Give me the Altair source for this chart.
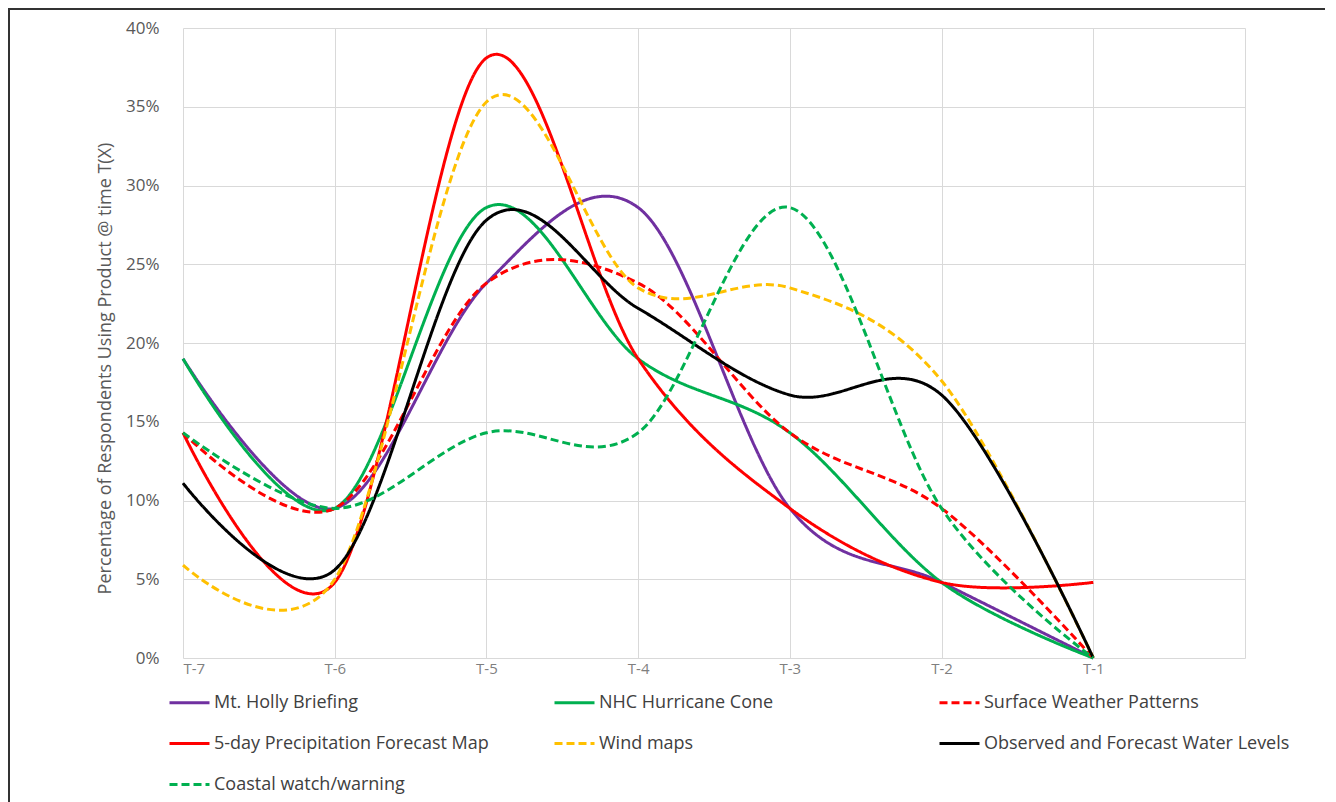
import altair as alt
import pandas as pd

labels = ["T-7", "T-6", "T-5", "T-4", "T-3", "T-2", "T-1", ""]
series = [
    "Mt. Holly Briefing",
    "NHC Hurricane Cone",
    "Surface Weather Patterns",
    "5-day Precipitation Forecast Map",
    "Wind maps",
    "Observed and Forecast Water Levels",
    "Coastal watch/warning",
]
mt_holly = [19.0, 9.5, 23.8, 28.6, 9.5, 4.8, 0.0]
nhc_cone = [19.0, 9.5, 28.6, 19.0, 14.3, 4.8, 0.0]
surface = [14.3, 9.5, 23.8, 23.8, 14.3, 9.5, 0.0]
precip = [14.3, 4.8, 38.1, 19.0, 9.5, 4.8, 4.8]
wind = [5.9, 5.0, 35.3, 23.5, 23.5, 17.6, 0.0]
water = [11.1, 5.6, 27.8, 22.2, 16.7, 16.7, 0.0]
coastal = [14.3, 9.5, 14.3, 14.3, 28.6, 9.5, 0.0]

colors = ["#7030A0", "#00B050", "#FF0000", "#FF0000", "#FFC000", "#000000", "#00B050"]
dashes = [[1, 0], [1, 0], [8, 4], [1, 0], [8, 4], [1, 0], [8, 4]]

all_vals = [mt_holly, nhc_cone, surface, precip, wind, water, coastal]
rows = []
for name, vals in zip(series, all_vals):
    for i, v in enumerate(vals):
        rows.append({"series": name, "t": i, "pct": v})
df = pd.DataFrame(rows)

label_expr = "[" + ",".join("'" + l + "'" for l in labels) + "][datum.value]"
FONT = "Open Sans"

legend = alt.Legend(
    title=None,
    orient="none",
    direction="horizontal",
    legendX=-15,
    legendY=653,
    columns=3,
    gridAlign="all",
    columnPadding=28,
    rowPadding=10,
    symbolType="stroke",
    symbolSize=1600,
    symbolStrokeWidth=3,
    labelFont=FONT,
    labelFontSize=18,
    labelColor="#404040",
    labelLimit=400,
    labelOffset=3,
)

lines = alt.Chart(df).mark_line(interpolate="cardinal", strokeWidth=3).encode(
    x=alt.X(
        "t:Q",
        scale=alt.Scale(domain=[0, 7], nice=False),
        axis=alt.Axis(
            values=list(range(8)),
            labelExpr=label_expr,
            title=None,
            grid=True,
            gridColor="#d9d9d9",
            domain=False,
            ticks=False,
            labelFont=FONT,
            labelFontSize=15,
            labelColor="#7f7f7f",
            labelPadding=3,
        ),
    ),
    y=alt.Y(
        "pct:Q",
        scale=alt.Scale(domain=[0, 40], nice=False),
        axis=alt.Axis(
            values=[0, 5, 10, 15, 20, 25, 30, 35, 40],
            labelExpr="datum.value + '%'",
            title="Percentage of Respondents Using Product @ time T(X)",
            titleFont=FONT,
            titleFontSize=18,
            titleFontWeight="normal",
            titleColor="#595959",
            titlePadding=11,
            titleY=340,
            grid=True,
            gridColor="#d9d9d9",
            domain=False,
            ticks=False,
            labelFont=FONT,
            labelFontSize=17,
            labelColor="#595959",
            labelPadding=24,
        ),
    ),
    color=alt.Color("series:N", scale=alt.Scale(domain=series, range=colors), legend=legend),
    strokeDash=alt.StrokeDash("series:N", scale=alt.Scale(domain=series, range=dashes), legend=legend),
    order=alt.Order("t:Q"),
)

frame = alt.Chart(alt.Data(values=[{"a": 1}])).mark_rect(
    fill=None, stroke="#333333", strokeWidth=2
).encode(
    x=alt.value(-174),
    x2=alt.value(1146),
    y=alt.value(-19),
    y2=alt.value(800),
)

chart = alt.layer(lines, frame).properties(
    width=1062,
    height=630,
    autosize=alt.AutoSizeParams(type="none"),
    padding={"left": 175, "top": 20, "right": 80, "bottom": 144},
).configure_view(stroke=None)

chart.save("out.html", embed_options={"renderer": "svg", "actions": False})
